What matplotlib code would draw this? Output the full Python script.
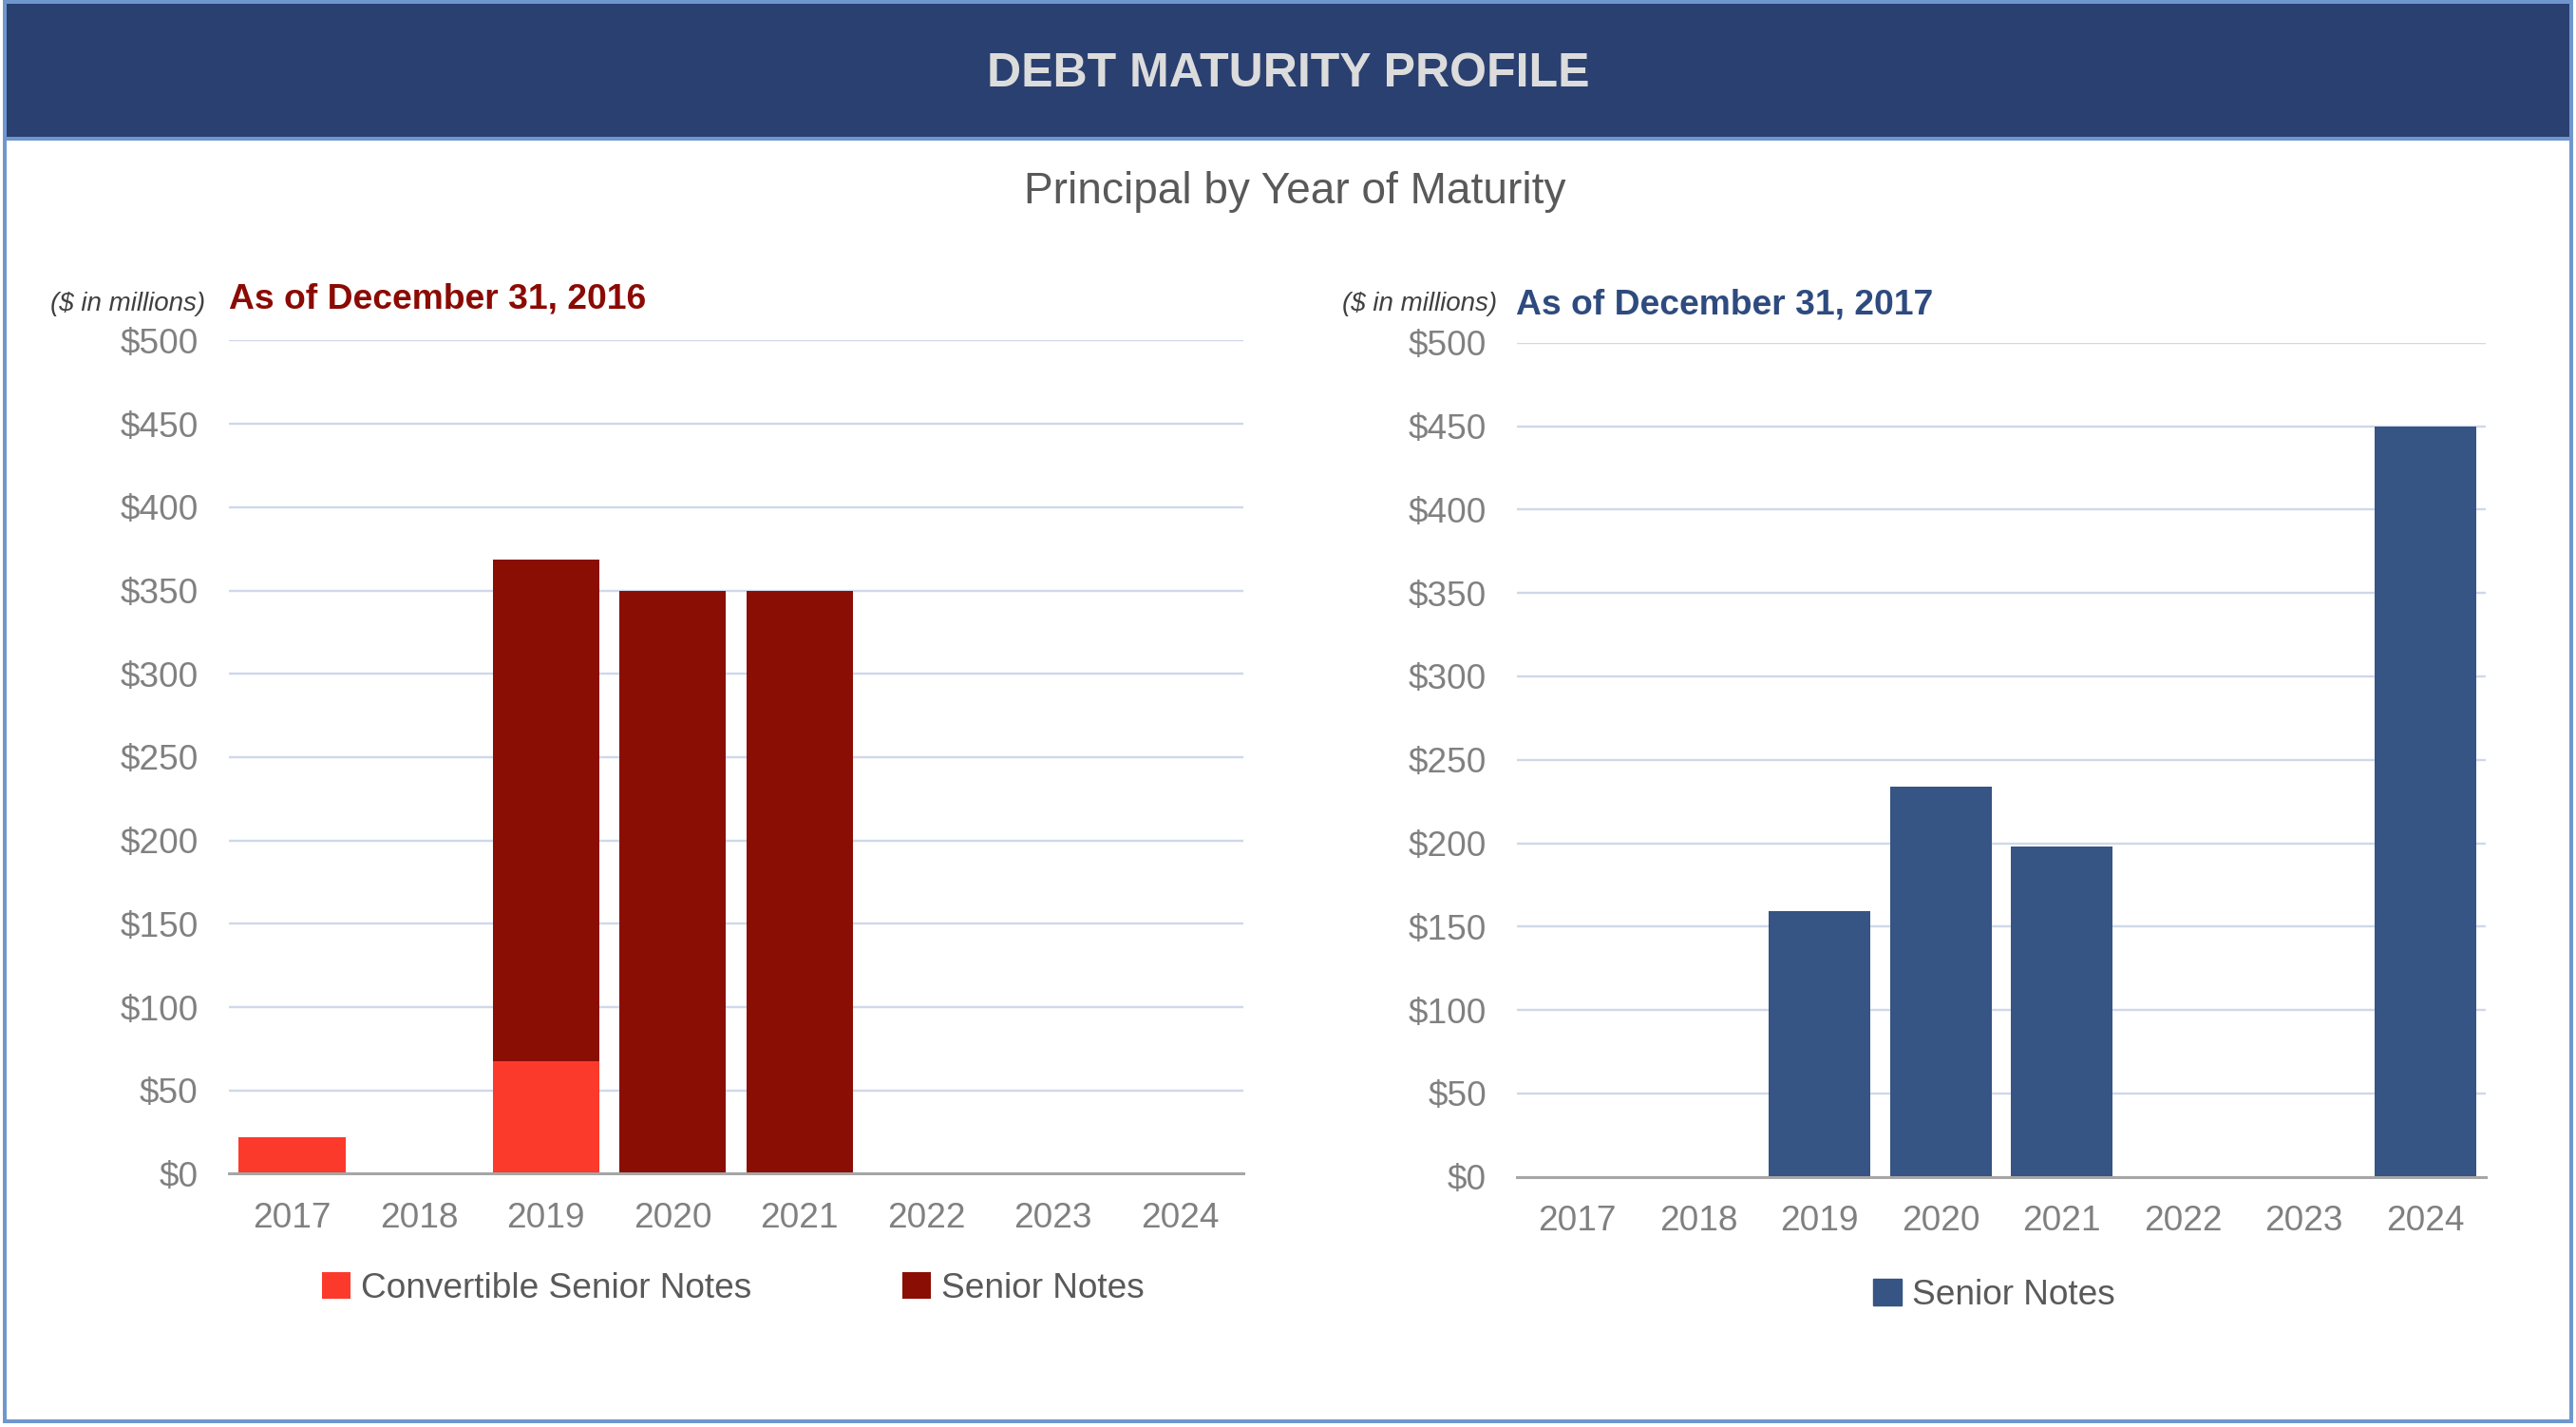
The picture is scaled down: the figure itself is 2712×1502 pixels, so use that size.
import matplotlib
matplotlib.use("Agg")
import matplotlib.pyplot as plt
from matplotlib.patches import Patch, Rectangle

plt.rcParams['font.family'] = ['Liberation Sans', 'DejaVu Sans']

years = ['2017', '2018', '2019', '2020', '2021', '2022', '2023', '2024']
convertible_2016 = [22, 0, 67.5, 0, 0, 0, 0, 0]
senior_2016 = [0, 0, 301, 350, 350, 0, 0, 0]
senior_2017 = [0, 0, 159, 234, 198, 0, 0, 450]
y_ticks = [0, 50, 100, 150, 200, 250, 300, 350, 400, 450, 500]

W, H = 2712, 1502
PT = 0.72  # points per pixel at dpi 100

NAVY = '#2a4070'
BORDER = '#6f97ce'
RED = '#fc3a2b'
DARK_RED = '#8b0e05'
BLUE_BAR = '#365484'
GRID = '#cfd8ea'
TICK = '#808080'
TEXT = '#595959'


def fx(px):
    return px / W


def fy(py):
    return 1 - py / H


def axes_px(fig, left, top, right, bottom):
    return fig.add_axes([fx(left), fy(bottom), (right - left) / W, (bottom - top) / H])


def style_axes(ax):
    ax.set_xlim(-0.5, len(years) - 0.5)
    ax.set_ylim(0, 500)
    ax.set_yticks(y_ticks)
    ax.set_yticklabels([f"${v}" for v in y_ticks])
    ax.set_xticks(range(len(years)))
    ax.set_xticklabels(years)
    for s in ('top', 'right', 'left'):
        ax.spines[s].set_visible(False)
    ax.spines['bottom'].set_color('#a6a6a6')
    ax.spines['bottom'].set_linewidth(3 * PT)
    ax.yaxis.grid(True, color=GRID, lw=2.4 * PT)
    ax.set_axisbelow(True)
    ax.tick_params(axis='y', length=0, pad=32 * PT, labelsize=37 * PT, labelcolor=TICK)
    ax.tick_params(axis='x', length=0, pad=21, labelsize=37 * PT, labelcolor=TICK)
    ax.patch.set_alpha(0)


fig = plt.figure(figsize=(W / 100, H / 100), dpi=100)

# header band and frame
fig.patches.append(Rectangle((fx(7), fy(144)), fx(2700), 144 / H, transform=fig.transFigure,
                             facecolor=NAVY, edgecolor='none', zorder=0))
fig.patches.append(Rectangle((fx(7), fy(148)), fx(2700), 4 / H, transform=fig.transFigure,
                             facecolor=BORDER, edgecolor='none', zorder=1))
fig.patches.append(Rectangle((fx(5), fy(1496)), fx(2702), 1494 / H, transform=fig.transFigure,
                             facecolor='none', edgecolor=BORDER, lw=4 * PT, zorder=2))

fig.text(fx(1356), fy(91), "DEBT MATURITY PROFILE", ha='center', va='baseline',
         fontsize=50 * PT, fontweight='bold', color='#dcdcdc')
fig.text(fx(1363), fy(214), "Principal by Year of Maturity", ha='center', va='baseline',
         fontsize=46 * PT, color=TEXT)

x = list(range(len(years)))

# left: as of 2016
ax1 = axes_px(fig, 240.8, 358.4, 1309, 1235.4)
ax1.bar(x, convertible_2016, width=0.84, color=RED, label='Convertible Senior Notes')
ax1.bar(x, senior_2016, width=0.84, bottom=convertible_2016, color=DARK_RED, label='Senior Notes')
style_axes(ax1)
ax1.legend(loc='center', bbox_to_anchor=(0.497, -0.138), ncol=2, frameon=False,
           fontsize=37 * PT, handlelength=0.8, handleheight=0.8, handletextpad=0.3,
           columnspacing=4.3, labelcolor=TEXT)

fig.text(fx(216), fy(327), "($ in millions)", ha='right', va='baseline',
         fontsize=27.8 * PT, style='italic', color='#404040')
fig.text(fx(241), fy(325), "As of December 31, 2016", ha='left', va='baseline',
         fontsize=37.3 * PT, fontweight='bold', color='#8b0a04')

# right: as of 2017
ax2 = axes_px(fig, 1597, 360.7, 2617, 1238.7)
ax2.bar(x, senior_2017, width=0.84, color=BLUE_BAR)
style_axes(ax2)
ax2.legend(handles=[Patch(color=BLUE_BAR)], labels=['Senior Notes'], loc='center',
           bbox_to_anchor=(0.4925, -0.142), frameon=False, fontsize=37 * PT,
           handlelength=0.8, handleheight=0.8, handletextpad=0.3, labelcolor=TEXT)

fig.text(fx(1576), fy(327), "($ in millions)", ha='right', va='baseline',
         fontsize=27.8 * PT, style='italic', color='#404040')
fig.text(fx(1596), fy(330), "As of December 31, 2017", ha='left', va='baseline',
         fontsize=37.3 * PT, fontweight='bold', color='#2e4b7f')

fig.savefig("out.png", dpi=100)
